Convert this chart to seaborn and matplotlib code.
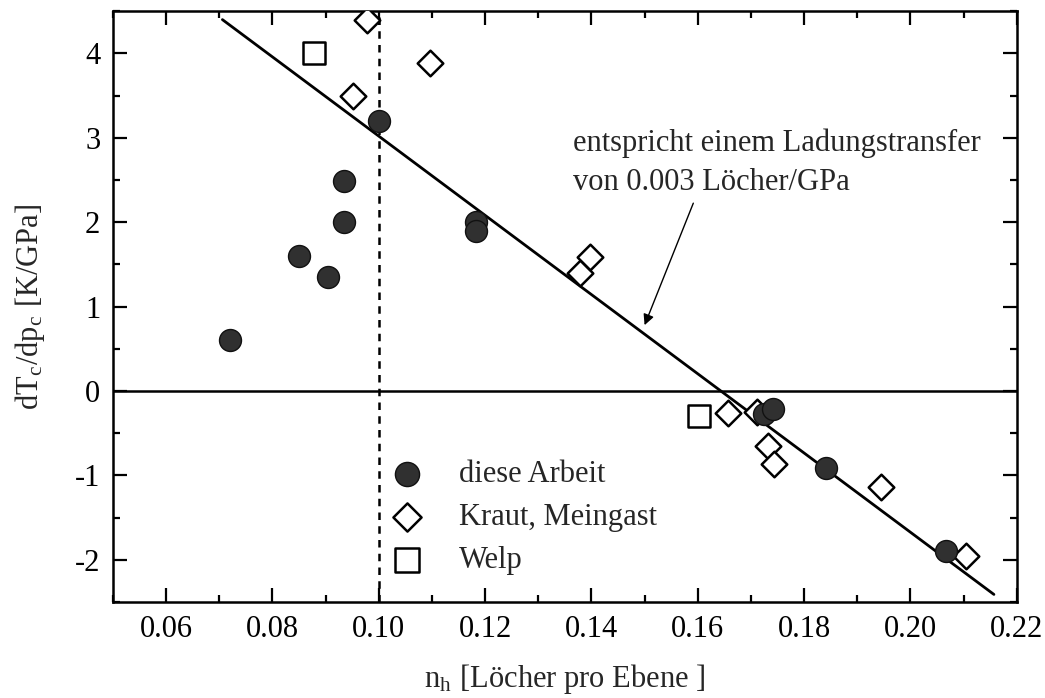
import matplotlib
matplotlib.use("Agg")
import matplotlib.pyplot as plt
import seaborn as sns
import numpy as np
import pandas as pd
from matplotlib.ticker import MultipleLocator, FormatStrFormatter

# Data
diese_x = [0.072, 0.085, 0.0905, 0.0935, 0.0935, 0.100, 0.1183, 0.1183, 0.1725, 0.1742, 0.1842, 0.2067]
diese_y = [0.60, 1.60, 1.35, 2.00, 2.49, 3.20, 2.00, 1.89, -0.27, -0.21, -0.91, -1.90]

kraut_x = [0.0978, 0.0951, 0.1096, 0.1379, 0.1398, 0.1657, 0.1711, 0.1733, 0.1744, 0.1944, 0.2104]
kraut_y = [4.40, 3.49, 3.89, 1.40, 1.59, -0.26, -0.25, -0.65, -0.86, -1.14, -1.95]

welp_x = [0.0879, 0.1603]
welp_y = [4.00, -0.30]

fit_x = [0.0706, 0.2157]
fit_y = [4.40, -2.41]

labels = ["diese Arbeit", "Kraut, Meingast", "Welp"]

sns.set_theme(style="ticks")
plt.rcParams['font.family'] = ['Liberation Serif', 'DejaVu Serif']
plt.rcParams['mathtext.fontset'] = 'stix'

FS = 22

fig = plt.figure(figsize=(10.45, 6.98), dpi=100)
ax = fig.add_axes([0.108, 0.1375, 0.865, 0.8465])

# reference lines
ax.axhline(0, color='black', lw=1.8, zorder=1)
ax.axvline(0.10, color='black', lw=1.8, ls=(0, (3, 2.5)), zorder=1)

# fit line
sns.lineplot(x=fit_x, y=fit_y, ax=ax, color='black', lw=2.0, zorder=2)

sns.scatterplot(x=diese_x, y=diese_y, ax=ax, marker='o', s=250,
                color='#303030', edgecolor='#111111', linewidth=1.0,
                label=labels[0], zorder=4)
sns.scatterplot(x=kraut_x, y=kraut_y, ax=ax, marker='D', s=170,
                facecolor='white', edgecolor='black', linewidth=1.8,
                label=labels[1], zorder=3)
sns.scatterplot(x=welp_x, y=welp_y, ax=ax, marker='s', s=240,
                facecolor='white', edgecolor='black', linewidth=1.8,
                label=labels[2], zorder=3)

ax.set_xlim(0.05, 0.22)
ax.set_ylim(-2.5, 4.5)
ax.xaxis.set_major_locator(MultipleLocator(0.02))
ax.xaxis.set_minor_locator(MultipleLocator(0.01))
ax.xaxis.set_major_formatter(FormatStrFormatter('%.2f'))
ax.yaxis.set_major_locator(MultipleLocator(1))
ax.yaxis.set_minor_locator(MultipleLocator(0.5))
ax.yaxis.set_major_formatter(FormatStrFormatter('%d'))

ax.tick_params(which='both', direction='in', top=True, right=True,
               colors='black', labelsize=FS, width=1.6)
ax.tick_params(which='major', length=10, pad=9)
ax.tick_params(which='minor', length=5)
for sp in ax.spines.values():
    sp.set_linewidth(1.8)
    sp.set_color('black')
    sp.set_visible(True)

ax.set_xlabel(r'n$_\mathregular{h}$ [Löcher pro Ebene ]', fontsize=FS, labelpad=13)
ax.set_ylabel(r'dT$_\mathregular{c}$/dp$_\mathregular{c}$ [K/GPa]', fontsize=FS, labelpad=20)

ax.annotate('entspricht einem Ladungstransfer\nvon 0.003 Löcher/GPa',
            xy=(0.150, 0.78), xytext=(0.1366, 2.70),
            fontsize=FS, ha='left', va='center', linespacing=1.45,
            arrowprops=dict(arrowstyle='-|>', color='black', lw=1.0,
                            mutation_scale=16, shrinkA=2, shrinkB=0,
                            relpos=(0.30, 0.0)))

leg = ax.legend(loc='upper left', bbox_to_anchor=(0.292, 0.24), frameon=False,
                fontsize=FS, handletextpad=0.7, labelspacing=0.45,
                borderaxespad=0, borderpad=0, markerscale=1.1)

fig.savefig('out.png', dpi=100)
